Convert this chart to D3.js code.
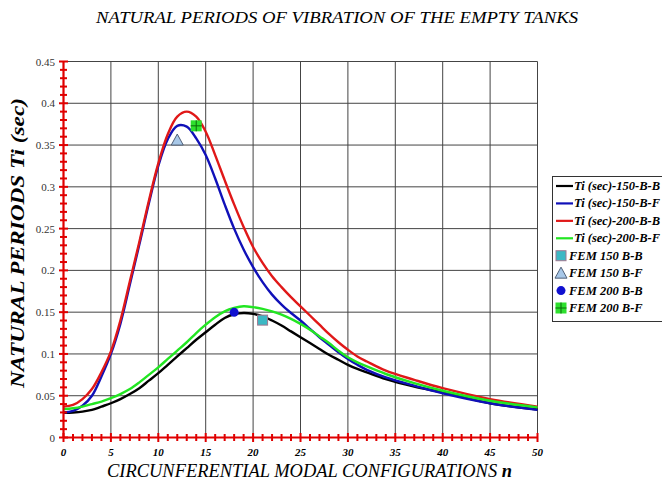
<!DOCTYPE html>
<html>
<head>
<meta charset="utf-8">
<script src="https://cdn.jsdelivr.net/npm/d3@7"></script>
<style>
  body { margin: 0; background: #fff; }
  svg { display: block; }
</style>
</head>
<body>
<div id="chart"></div>
<script>
// circumferential modal configuration n
var nValues = [0, 1, 2, 3, 4, 5, 6, 7, 8, 9, 10, 11, 12, 13, 14, 15, 16, 17, 18, 19, 20,
  21, 22, 23, 24, 25, 26, 27, 28, 29, 30, 31, 32, 34, 37, 40, 45, 50];

// natural periods Ti (sec)
var t150BB = [0.0295, 0.030, 0.031, 0.033, 0.037, 0.041, 0.046, 0.052, 0.059, 0.068, 0.077, 0.087, 0.097, 0.107, 0.117, 0.126, 0.135, 0.143, 0.1475, 0.149, 0.148,
  0.145, 0.140, 0.134, 0.127, 0.120, 0.113, 0.106, 0.099, 0.093, 0.087, 0.082, 0.078, 0.070, 0.061, 0.054, 0.041, 0.0335];
var t150BF = [0.030, 0.032, 0.038, 0.050, 0.073, 0.100, 0.136, 0.183, 0.231, 0.280, 0.325, 0.357, 0.373, 0.372, 0.358, 0.338, 0.310, 0.279, 0.250, 0.225, 0.204,
  0.186, 0.171, 0.159, 0.149, 0.140, 0.130, 0.120, 0.111, 0.102, 0.094, 0.087, 0.081, 0.072, 0.062, 0.053, 0.041, 0.033];
var t200BB = [0.037, 0.039, 0.046, 0.058, 0.078, 0.103, 0.140, 0.187, 0.234, 0.283, 0.328, 0.363, 0.384, 0.390, 0.384, 0.366, 0.338, 0.308, 0.279, 0.252, 0.228,
  0.209, 0.193, 0.180, 0.168, 0.157, 0.146, 0.135, 0.124, 0.114, 0.105, 0.097, 0.091, 0.080, 0.069, 0.059, 0.046, 0.037];
var t200BF = [0.034, 0.035, 0.037, 0.040, 0.043, 0.047, 0.052, 0.058, 0.066, 0.075, 0.084, 0.094, 0.104, 0.114, 0.125, 0.135, 0.144, 0.151, 0.155, 0.157, 0.156,
  0.154, 0.151, 0.147, 0.142, 0.136, 0.129, 0.121, 0.113, 0.104, 0.096, 0.090, 0.085, 0.076, 0.065, 0.056, 0.044, 0.036];

// FEM results (single points)
var femNames = ["FEM 150 B-B", "FEM 150 B-F", "FEM 200 B-B", "FEM 200 B-F"];
var femN = [21, 12, 18, 14];
var femT = [0.1405, 0.356, 0.1498, 0.373];

var seriesNames = ["Ti (sec)-150-B-B", "Ti (sec)-150-B-F", "Ti (sec)-200-B-B", "Ti (sec)-200-B-F"];
var seriesColors = ["#000000", "#1010b8", "#e01818", "#22e622"];
var seriesValues = [t150BB, t150BF, t200BB, t200BF];

var yTicks = [0, 0.05, 0.1, 0.15, 0.2, 0.25, 0.3, 0.35, 0.4, 0.45];
var xTicks = [0, 5, 10, 15, 20, 25, 30, 35, 40, 45, 50];

var width = 662, height = 485;
var margin = { top: 61.5, right: 124.5, bottom: 47.5, left: 63.5 };
var serif = "Liberation Serif";

var svg = d3.select("#chart").append("svg")
  .attr("width", width)
  .attr("height", height);

svg.append("rect").attr("width", width).attr("height", height).attr("fill", "#fff");

var x = d3.scaleLinear().domain([0, 50]).range([margin.left, width - margin.right]);
var y = d3.scaleLinear().domain([0, 0.45]).range([height - margin.bottom, margin.top]);

// grid
svg.append("g").selectAll("line")
  .data(xTicks.slice(1))
  .enter().append("line")
  .attr("x1", function (d) { return x(d); })
  .attr("x2", function (d) { return x(d); })
  .attr("y1", y(0)).attr("y2", y(0.45))
  .attr("stroke", "#444").attr("stroke-width", 1);

svg.append("g").selectAll("line")
  .data(yTicks.slice(1))
  .enter().append("line")
  .attr("x1", x(0)).attr("x2", x(50))
  .attr("y1", function (d) { return y(d); })
  .attr("y2", function (d) { return y(d); })
  .attr("stroke", "#444").attr("stroke-width", 1);

// curves
var line = d3.line()
  .x(function (d) { return x(d[0]); })
  .y(function (d) { return y(d[1]); })
  .curve(d3.curveCatmullRom.alpha(0.5));

seriesValues.forEach(function (vals, i) {
  svg.append("path")
    .datum(nValues.map(function (n, j) { return [n, vals[j]]; }))
    .attr("fill", "none")
    .attr("stroke", seriesColors[i])
    .attr("stroke-width", 2.4)
    .attr("stroke-linejoin", "round")
    .attr("d", line);
});

// FEM markers
function drawMarker(g, k, cx, cy) {
  if (k === 0) {
    g.append("rect").attr("x", cx - 5).attr("y", cy - 5).attr("width", 10).attr("height", 10)
      .attr("fill", "#3cb8c4").attr("stroke", "#a07890").attr("stroke-width", 1);
  } else if (k === 1) {
    g.append("path")
      .attr("d", "M" + cx + "," + (cy - 6) + "L" + (cx + 6) + "," + (cy + 5) + "L" + (cx - 6) + "," + (cy + 5) + "Z")
      .attr("fill", "#a8c8e8").attr("stroke", "#506078").attr("stroke-width", 1);
  } else if (k === 2) {
    g.append("circle").attr("cx", cx).attr("cy", cy).attr("r", 4.5).attr("fill", "#1010d0");
  } else {
    g.append("rect").attr("x", cx - 5.5).attr("y", cy - 5.5).attr("width", 11).attr("height", 11)
      .attr("fill", "#2ee02e");
    g.append("path")
      .attr("d", "M" + (cx - 5.5) + "," + cy + "H" + (cx + 5.5) + "M" + cx + "," + (cy - 5.5) + "V" + (cy + 5.5))
      .attr("stroke", "#0a6a0a").attr("stroke-width", 1);
  }
}

var femG = svg.append("g");
femN.forEach(function (n, k) {
  drawMarker(femG, k, x(n), y(femT[k]));
});

// red axes with cross ticks
var axisColor = "#e00000";
var axes = svg.append("g");
axes.append("line").attr("x1", x(0)).attr("x2", x(0)).attr("y1", y(0)).attr("y2", y(0.45))
  .attr("stroke", axisColor).attr("stroke-width", 2.2);
axes.append("line").attr("x1", x(0)).attr("x2", x(50)).attr("y1", y(0)).attr("y2", y(0))
  .attr("stroke", axisColor).attr("stroke-width", 2.2);

axes.selectAll("line.ym")
  .data(d3.range(0, 46))
  .enter().append("line")
  .attr("x1", function (d) { return x(0) - (d % 5 === 0 ? 4.5 : 3.5); })
  .attr("x2", function (d) { return x(0) + (d % 5 === 0 ? 4.5 : 3.5); })
  .attr("y1", function (d) { return y(d / 100); })
  .attr("y2", function (d) { return y(d / 100); })
  .attr("stroke", axisColor).attr("stroke-width", 2);

axes.selectAll("line.xm")
  .data(d3.range(0, 51))
  .enter().append("line")
  .attr("x1", function (d) { return x(d); })
  .attr("x2", function (d) { return x(d); })
  .attr("y1", function (d) { return y(0) - (d % 5 === 0 ? 4.5 : 3.5); })
  .attr("y2", function (d) { return y(0) + (d % 5 === 0 ? 4.5 : 3.5); })
  .attr("stroke", axisColor).attr("stroke-width", 2);

// tick labels
svg.append("g").selectAll("text")
  .data(yTicks)
  .enter().append("text")
  .attr("x", 55)
  .attr("y", function (d) { return y(d) + 4; })
  .attr("text-anchor", "end")
  .attr("font-family", serif)
  .attr("font-size", 11)
  .attr("fill", "#333")
  .text(function (d) { return d; });

svg.append("g").selectAll("text")
  .data(xTicks)
  .enter().append("text")
  .attr("x", function (d) { return x(d); })
  .attr("y", 456)
  .attr("text-anchor", "middle")
  .attr("font-family", serif)
  .attr("font-size", 11)
  .attr("font-style", "italic")
  .attr("font-weight", "bold")
  .text(function (d) { return d; });

// titles
svg.append("text")
  .attr("x", 337).attr("y", 23)
  .attr("text-anchor", "middle")
  .attr("textLength", 482).attr("lengthAdjust", "spacingAndGlyphs")
  .attr("font-family", serif).attr("font-size", 17).attr("font-style", "italic")
  .text("NATURAL PERIODS OF VIBRATION OF THE EMPTY TANKS");

var xt = svg.append("text")
  .attr("x", 309.5).attr("y", 477)
  .attr("text-anchor", "middle")
  .attr("textLength", 405).attr("lengthAdjust", "spacingAndGlyphs")
  .attr("font-family", serif).attr("font-size", 18).attr("font-style", "italic");
xt.append("tspan").text("CIRCUNFERENTIAL MODAL CONFIGURATIONS ");
xt.append("tspan").attr("font-weight", "bold").text("n");

svg.append("text")
  .attr("transform", "translate(24,243) rotate(-90)")
  .attr("text-anchor", "middle")
  .attr("textLength", 290).attr("lengthAdjust", "spacingAndGlyphs")
  .attr("font-family", serif).attr("font-size", 18).attr("font-style", "italic")
  .attr("font-weight", "bold")
  .text("NATURAL PERIODS Ti (sec)");

// legend
var legend = svg.append("g");
legend.append("rect")
  .attr("x", 552.5).attr("y", 176.5).attr("width", 120).attr("height", 145)
  .attr("fill", "#fff").attr("stroke", "#333").attr("stroke-width", 1);

var rowY = d3.scaleLinear().domain([0, 7]).range([186, 308]);

seriesNames.forEach(function (name, i) {
  var ry = rowY(i);
  legend.append("line")
    .attr("x1", 556).attr("x2", 573).attr("y1", ry).attr("y2", ry)
    .attr("stroke", seriesColors[i]).attr("stroke-width", 2.2);
  legend.append("text")
    .attr("x", 574).attr("y", ry + 4)
    .attr("font-family", serif).attr("font-size", 12.5)
    .attr("font-style", "italic").attr("font-weight", "bold")
    .text(name);
});

femNames.forEach(function (name, k) {
  var ry = rowY(k + 4);
  drawMarker(legend, k, 561, ry);
  legend.append("text")
    .attr("x", 569).attr("y", ry + 4)
    .attr("font-family", serif).attr("font-size", 12.5)
    .attr("font-style", "italic").attr("font-weight", "bold")
    .text(name);
});
</script>
</body>
</html>
